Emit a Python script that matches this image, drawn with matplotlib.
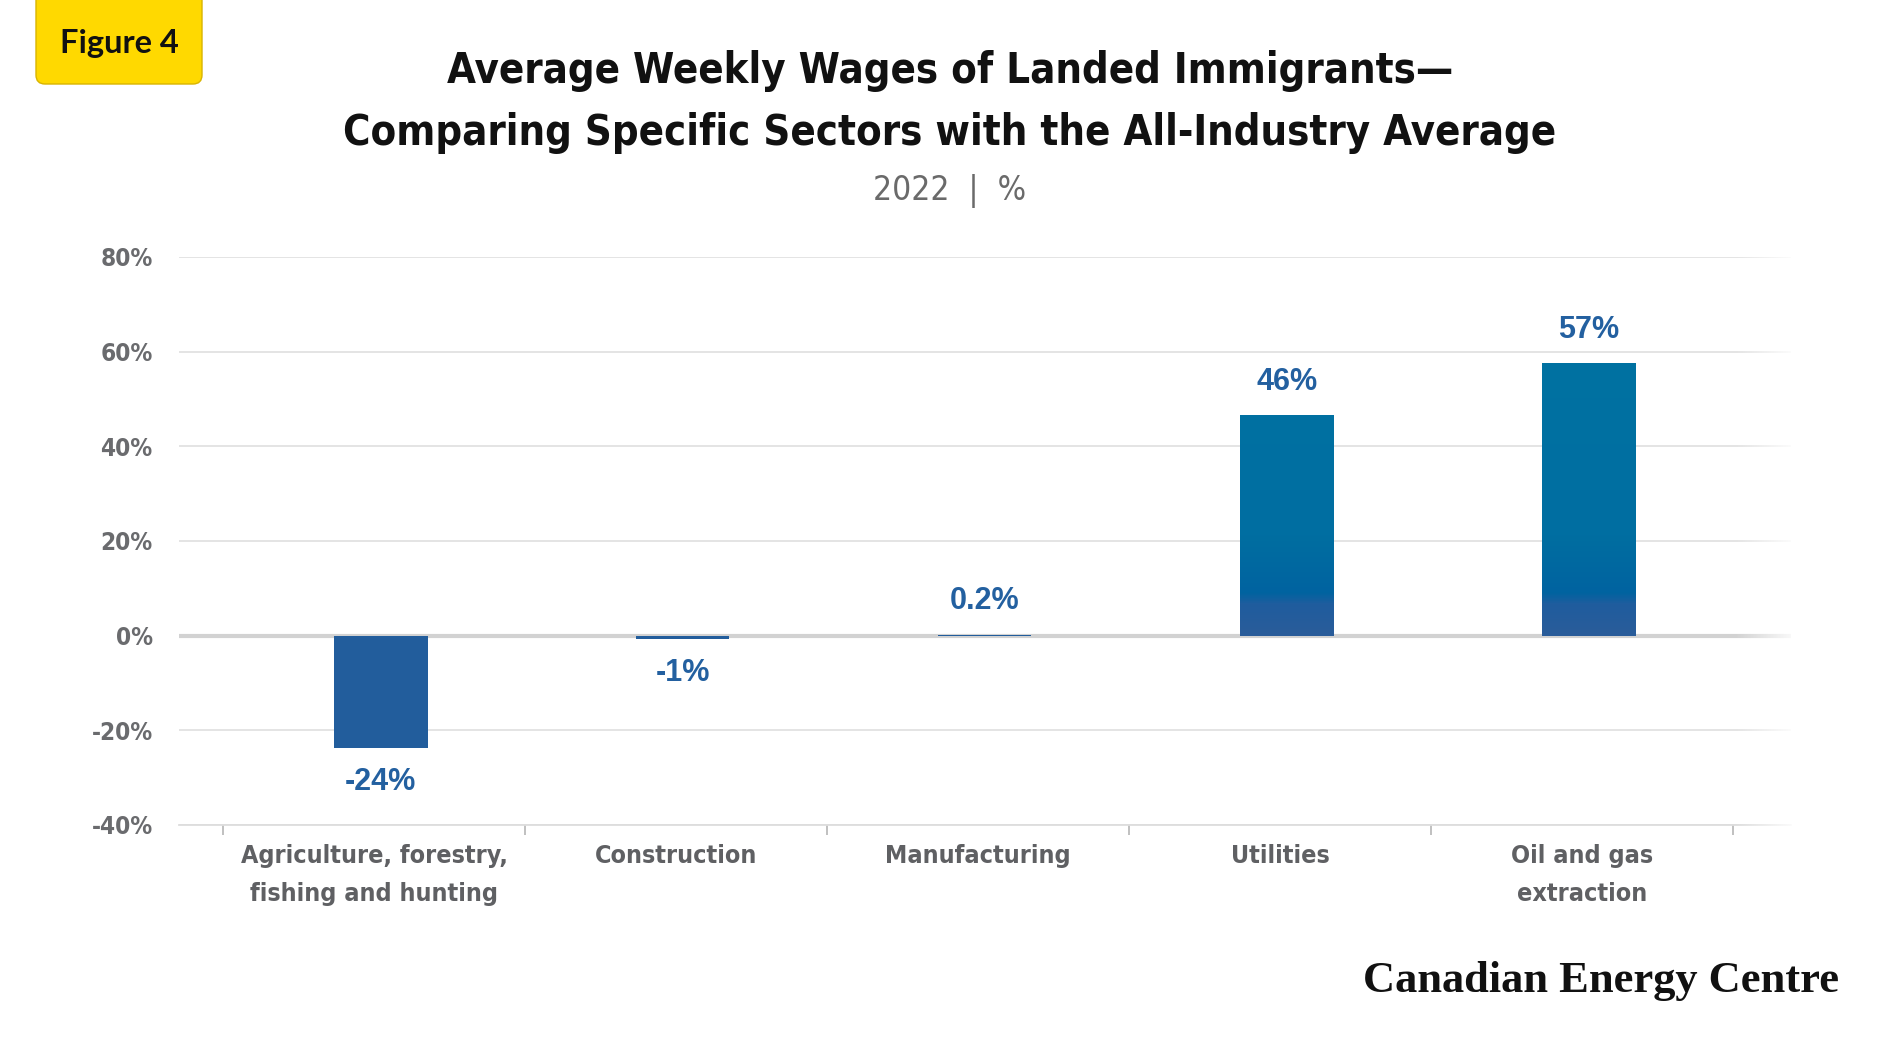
import matplotlib
matplotlib.use("Agg")
from matplotlib import pyplot as plt
from matplotlib.colors import LinearSegmentedColormap
from matplotlib.patches import FancyBboxPatch
import numpy as np

# chart data
sectors = ["Agriculture, forestry,\nfishing and hunting", "Construction", "Manufacturing",
           "Utilities", "Oil and gas\nextraction"]
wage_gap = [-23.8, -0.8, 0.2, 46.6, 57.5]
gap_labels = ["-24%", "-1%", "0.2%", "46%", "57%"]
y_ticks = [-40, -20, 0, 20, 40, 60, 80]

TITLE_LINES = ["Average Weekly Wages of Landed Immigrants\u2014",
               "Comparing Specific Sectors with the All-Industry Average"]
SUBTITLE = "2022  |  %"

NARROW = ["DejaVu Sans"]
BLUE = "#225d9c"
LABEL_BLUE = "#2360a0"
GREY_TXT = "#5f6063"

fig = plt.figure(figsize=(19, 10.5), dpi=100)
fig.patch.set_facecolor("white")

ax = fig.add_axes([0.0942, 0.2143, 0.8484, 0.541])
x = np.arange(len(sectors))
# the bars sit a touch right of the category centres in the original
bars = ax.bar(x + 0.022, wage_gap, width=0.31, color=BLUE, zorder=3)

# vertical gradient on the positive bars (darker near the zero line)
grad = LinearSegmentedColormap.from_list(
    "bar_grad",
    [(0.0, "#2a5c9a"), (0.11, "#1f5d9e"), (0.15, "#0063a0"),
     (0.35, "#006ea1"), (1.0, "#0072a2")])
ramp = np.linspace(0, 1, 400).reshape(-1, 1)
for b, v in zip(bars, wage_gap):
    if v > 5:
        b.set_facecolor("none")
        im = ax.imshow(ramp, cmap=grad, origin="lower", aspect="auto",
                       extent=(b.get_x(), b.get_x() + b.get_width(), 0, 60),
                       zorder=3)
        im.set_clip_path(b)

for b, v, lab in zip(bars, wage_gap, gap_labels):
    off = 24 if v >= 0 else -24
    ax.annotate(lab, (b.get_x() + b.get_width() / 2, v), xytext=(0, off),
                textcoords="offset points", ha="center", va="center",
                fontsize=22, fontweight="bold", color=LABEL_BLUE,
                family=["Liberation Sans", "DejaVu Sans"], zorder=4)

ax.set_xlim(-0.646, 4.692)
ax.set_ylim(-40, 80)
ax.set_yticks(y_ticks)
ax.set_yticklabels([f"{t}%" for t in y_ticks])
ax.grid(axis="y", color="#e2e2e2", lw=1.3, zorder=0)
ax.axhline(0, color="#d2d2d2", lw=3, zorder=2)

for s in ["top", "right", "left"]:
    ax.spines[s].set_visible(False)
ax.spines["bottom"].set_color("#dddddd")
ax.spines["bottom"].set_linewidth(1.3)

ax.set_xticks(x)
ax.set_xticklabels(sectors)
ax.set_xticks(np.arange(-0.5, len(sectors)), minor=True)
ax.tick_params(axis="x", which="major", length=0, pad=14)
ax.tick_params(axis="x", which="minor", length=7, width=1.3, color="#bbbbbb")
ax.tick_params(axis="y", length=0, pad=19)
for t in ax.get_xticklabels():
    t.set_family(NARROW)
    t.set_fontstretch("condensed")
    t.set_fontsize(18)
    t.set_fontweight("bold")
    t.set_color(GREY_TXT)
    t.set_linespacing(1.72)
for t in ax.get_yticklabels():
    t.set_family(NARROW)
    t.set_fontstretch("condensed")
    t.set_fontsize(17.5)
    t.set_fontweight("bold")
    t.set_color("#6a6b6e")

# overlay in pixel coordinates for the header and footer
fa = fig.add_axes([0, 0, 1, 1], zorder=5)
fa.set_xlim(0, 1900)
fa.set_ylim(1050, 0)
fa.axis("off")
fa.patch.set_visible(False)

# grid lines fade out to white at the right edge
fade = np.ones((1, 100, 4))
fade[0, :, 3] = np.linspace(0, 1, 100)
fa.imshow(fade, extent=(1735, 1800, 840, 240), aspect="auto", zorder=1)

badge = FancyBboxPatch((36, -20), 166, 104, boxstyle="round,pad=0,rounding_size=9",
                       facecolor="#ffd900", edgecolor="#d9b400", lw=1)
fa.add_patch(badge)
fa.text(119, 44, "Figure 4", ha="center", va="center", fontsize=23.5,
        fontweight="bold", family=["Lato", "DejaVu Sans"], color="#111111")

for y_px, line in zip([71, 133], TITLE_LINES):
    fa.text(950, y_px, line, ha="center", va="center", fontsize=30,
            fontweight="bold", fontstretch="condensed", family=NARROW,
            color="#111111")
fa.text(950, 191, SUBTITLE, ha="center", va="center", fontsize=24,
        fontweight="light", fontstretch="condensed", family=NARROW,
        color="#6a6a6a")

fa.text(1839, 981, "Canadian Energy Centre", ha="right", va="center",
        fontsize=32, fontweight="bold", family=["Liberation Serif", "DejaVu Serif"],
        color="#111111")

fa.set_xlim(0, 1900)
fa.set_ylim(1050, 0)

fig.savefig("out.png", dpi=100, facecolor="white")
